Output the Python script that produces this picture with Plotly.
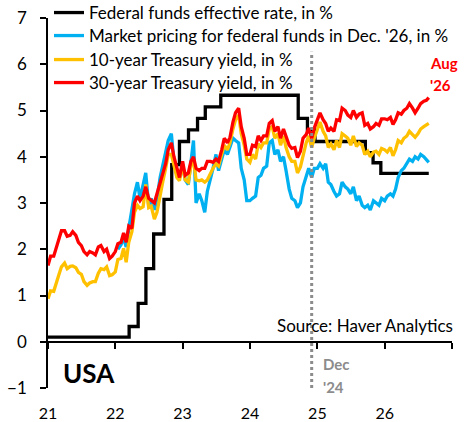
import pandas as pd
import plotly.graph_objects as go

# ---------------- data ----------------
dates = list(pd.date_range("2021-01-01", "2026-08-15", freq="SMS").strftime("%Y-%m-%d")) + ["2026-08-28"]

ten_2021 = [0.93, 1.10, 1.09, 1.30, 1.45, 1.62, 1.70, 1.58, 1.63, 1.64, 1.60, 1.50,
            1.46, 1.30, 1.22, 1.27, 1.30, 1.30, 1.48, 1.58, 1.56, 1.62, 1.43, 1.45]
ten_2022 = [1.51, 1.78, 1.80, 2.02, 1.72, 2.15, 2.38, 2.80, 2.95, 2.88, 2.92, 3.40,
            2.90, 2.93, 2.65, 2.80, 3.20, 3.45, 3.75, 4.05, 4.05, 3.80, 3.55, 3.48]
ten_2023 = [3.85, 3.50, 3.45, 3.80, 3.95, 3.50, 3.48, 3.50, 3.45, 3.50, 3.65, 3.75,
            3.85, 3.80, 4.05, 4.25, 4.15, 4.30, 4.60, 4.80, 4.90, 4.50, 4.25, 3.95]
ten_2024 = [3.88, 4.05, 3.95, 4.28, 4.20, 4.30, 4.30, 4.60, 4.65, 4.40, 4.50, 4.25,
            4.45, 4.20, 4.00, 3.90, 3.90, 3.65, 3.78, 4.05, 4.30, 4.45, 4.20, 4.40]
ten_2025 = [4.57, 4.75, 4.55, 4.45, 4.20, 4.28, 4.15, 4.35, 4.20, 4.50, 4.45, 4.40,
            4.25, 4.45, 4.22, 4.30, 4.25, 4.05, 4.12, 4.00, 4.10, 4.12, 4.05, 4.18]
ten_2026 = [4.15, 4.10, 4.20, 4.02, 4.15, 4.35, 4.30, 4.40, 4.45, 4.55, 4.48, 4.42,
            4.50, 4.60, 4.65, 4.68, 4.72]

thirty_2021 = [1.65, 1.85, 1.85, 2.05, 2.20, 2.40, 2.40, 2.28, 2.30, 2.38, 2.30, 2.15,
               2.08, 1.95, 1.88, 1.95, 1.92, 1.88, 2.05, 2.08, 1.95, 2.00, 1.80, 1.85]
thirty_2022 = [1.95, 2.12, 2.15, 2.35, 2.15, 2.50, 2.45, 3.00, 3.15, 3.05, 3.15, 3.35,
               3.10, 3.05, 3.00, 3.20, 3.45, 3.60, 3.85, 4.15, 4.30, 4.00, 3.75, 3.55]
thirty_2023 = [3.90, 3.60, 3.65, 3.90, 4.00, 3.75, 3.70, 3.75, 3.75, 3.90, 3.90, 3.88,
               3.95, 3.90, 4.15, 4.40, 4.30, 4.42, 4.75, 4.95, 5.05, 4.65, 4.40, 4.05]
thirty_2024 = [4.05, 4.25, 4.22, 4.45, 4.35, 4.45, 4.45, 4.72, 4.78, 4.55, 4.65, 4.40,
               4.60, 4.42, 4.25, 4.18, 4.20, 3.98, 4.12, 4.40, 4.48, 4.62, 4.40, 4.62]
thirty_2025 = [4.82, 4.95, 4.80, 4.72, 4.55, 4.62, 4.55, 4.80, 4.78, 5.05, 5.00, 4.90,
               4.85, 5.00, 4.85, 4.92, 4.95, 4.68, 4.72, 4.60, 4.65, 4.72, 4.68, 4.82]
thirty_2026 = [4.82, 4.80, 4.85, 4.70, 4.80, 4.95, 4.92, 5.00, 5.05, 5.15, 5.05, 4.95,
               5.05, 5.15, 5.20, 5.22, 5.28]

market_2022 = [2.00, 2.10, 2.25, 2.05, 2.45, 2.85, 3.20, 3.45, 3.10, 3.40, 3.65, 2.95,
               3.10, 2.85, 3.10, 3.55, 3.80, 4.05, 4.35, 4.50, 3.90, 3.70, 3.55]
market_2023 = [3.80, 3.50, 3.40, 3.85, 4.35, 3.00, 3.20, 3.05, 2.80, 3.25, 3.50, 3.75,
               4.05, 3.70, 3.95, 4.15, 4.05, 4.20, 4.40, 4.35, 4.30, 3.75, 3.50, 3.05]
market_2024 = [3.05, 3.10, 3.15, 3.55, 3.60, 3.75, 3.80, 4.30, 4.35, 4.05, 4.15, 3.90,
               4.00, 3.70, 3.30, 3.10, 3.05, 2.90, 3.00, 3.35, 3.55, 3.75, 3.55, 3.75]
market_2025 = [3.75, 3.85, 3.75, 3.85, 3.45, 3.40, 3.25, 3.15, 3.20, 3.45, 3.35, 3.30,
               3.20, 3.35, 3.05, 3.15, 2.95, 2.90, 2.95, 2.85, 3.05, 3.00, 2.95, 3.10]
market_2026 = [3.05, 3.15, 3.20, 3.15, 3.30, 3.55, 3.70, 3.75, 3.85, 3.95, 3.90, 4.00,
               3.95, 4.05, 4.00, 3.95, 3.88]

ffr_dates = ["2021-01-01", "2022-03-17", "2022-05-05", "2022-06-16", "2022-07-28",
             "2022-09-22", "2022-11-03", "2022-12-15", "2023-02-02", "2023-03-23",
             "2023-05-04", "2023-07-27", "2024-09-19", "2024-11-08", "2024-12-19",
             "2025-09-18", "2025-10-30", "2025-12-11", "2026-08-28"]
ffr_values = [0.10, 0.33, 0.83, 1.58, 2.33, 3.08, 3.83, 4.33, 4.58, 4.83,
              5.08, 5.33, 4.83, 4.58, 4.33, 4.09, 3.87, 3.64, 3.64]

ten_year = ten_2021 + ten_2022 + ten_2023 + ten_2024 + ten_2025 + ten_2026
thirty_year = thirty_2021 + thirty_2022 + thirty_2023 + thirty_2024 + thirty_2025 + thirty_2026
market = market_2022 + market_2023 + market_2024 + market_2025 + market_2026
market_dates = dates[-len(market):]

marker_date = "2024-12-01"
marker_span = [-1, 6.27]

year_ticks = ["2021-01-01", "2022-01-01", "2023-01-01", "2024-01-01",
              "2025-01-01", "2026-01-01", "2027-01-01"]
year_labels = ["21", "22", "23", "24", "25", "26", ""]

names = ["Federal funds effective rate, in %",
         "Market pricing for federal funds in Dec. '26, in %",
         "10-year Treasury yield, in %",
         "30-year Treasury yield, in %"]

# ---------------- figure ----------------
W, H = 467, 422
FONT = "Lato"
YMIN, YMAX = -1, 7
xdom = [48 / W, 452 / W]
ydom = [(H - 388) / H, (H - 18) / H]
zero_pos = ydom[0] + (0 - YMIN) / (YMAX - YMIN) * (ydom[1] - ydom[0])

def px(x):
    return x / W

def py(y):
    return (H - y) / H

fig = go.Figure()
LW = 3.3
fig.add_trace(go.Scatter(x=ffr_dates, y=ffr_values, mode="lines", name=names[0],
                         line=dict(color="#000000", width=LW, shape="hv"), legend="legend"))
fig.add_trace(go.Scatter(x=market_dates, y=market, mode="lines", name=names[1],
                         line=dict(color="#00B0F0", width=LW), legend="legend2"))
fig.add_trace(go.Scatter(x=dates, y=ten_year, mode="lines", name=names[2],
                         line=dict(color="#FFC000", width=LW), legend="legend3"))
fig.add_trace(go.Scatter(x=dates, y=thirty_year, mode="lines", name=names[3],
                         line=dict(color="#FF0000", width=LW), legend="legend4"))
fig.add_trace(go.Scatter(x=[marker_date, marker_date], y=marker_span, mode="lines",
                         showlegend=False, hoverinfo="skip",
                         line=dict(color="#8C8C8C", width=3, dash="dot")))
# helper trace for the zero-crossing axis
fig.add_trace(go.Scatter(x=[], y=[], xaxis="x2", showlegend=False, hoverinfo="skip"))

def legend_at(top_px):
    return dict(x=px(49), y=py(top_px), xanchor="left", yanchor="top",
                bgcolor="rgba(0,0,0,0)", font=dict(size=17, family=FONT), itemwidth=30)

xrange = ["2021-01-01", "2027-01-01"]
fig.update_layout(
    width=W, height=H,
    margin=dict(l=0, r=0, t=0, b=0, autoexpand=False),
    paper_bgcolor="white", plot_bgcolor="white",
    font=dict(family=FONT, size=16, color="#000000"),
    showlegend=True,
    legend=legend_at(-5), legend2=legend_at(18), legend3=legend_at(42), legend4=legend_at(65),
    xaxis=dict(type="date", range=xrange, domain=xdom, tickvals=year_ticks, ticktext=year_labels,
               showgrid=False, zeroline=False, showline=False,
               ticks="outside", ticklen=11, tickcolor="rgba(0,0,0,0)",
               tickfont=dict(size=16, family=FONT)),
    xaxis2=dict(type="date", range=xrange, domain=xdom, overlaying="x", anchor="free",
                position=zero_pos, side="bottom", tickvals=year_ticks, showticklabels=False,
                showgrid=False, zeroline=False, showline=True, linecolor="#000000",
                linewidth=1.5, ticks="outside", ticklen=6, tickwidth=1.5, tickcolor="#000000"),
    yaxis=dict(range=[YMIN, YMAX], domain=ydom, dtick=1, tick0=0, showgrid=False, zeroline=False,
               showline=True, linecolor="#000000", linewidth=1.5,
               ticks="outside", ticklen=6, tickwidth=1.5, tickcolor="#000000",
               ticklabelstandoff=10, tickfont=dict(size=17, family=FONT)),
)

annos = [
    dict(text="<b>USA</b>", x=px(61), y=py(373), xanchor="left", yanchor="middle",
         font=dict(size=26, color="#000000", family=FONT)),
    dict(text="Source: Haver Analytics", x=px(455), y=py(325), xanchor="right", yanchor="middle",
         font=dict(size=17, color="#000000", family=FONT)),
    dict(text="<b>Dec</b>", x=px(321), y=py(364), xanchor="left", yanchor="middle",
         font=dict(size=15, color="#8C8C8C", family=FONT)),
    dict(text="<b>'24</b>", x=px(321), y=py(387), xanchor="left", yanchor="middle",
         font=dict(size=15, color="#8C8C8C", family=FONT)),
    dict(text="<b>Aug</b>", x=px(428), y=py(63), xanchor="left", yanchor="middle",
         font=dict(size=15, color="#FF0000", family=FONT)),
    dict(text="<b>'26</b>", x=px(428), y=py(85), xanchor="left", yanchor="middle",
         font=dict(size=15, color="#FF0000", family=FONT)),
]
for a in annos:
    fig.add_annotation(xref="paper", yref="paper", showarrow=False, **a)

fig.write_html("out.html", config={"displayModeBar": False},
               post_script="document.body.style.margin='0px';")
